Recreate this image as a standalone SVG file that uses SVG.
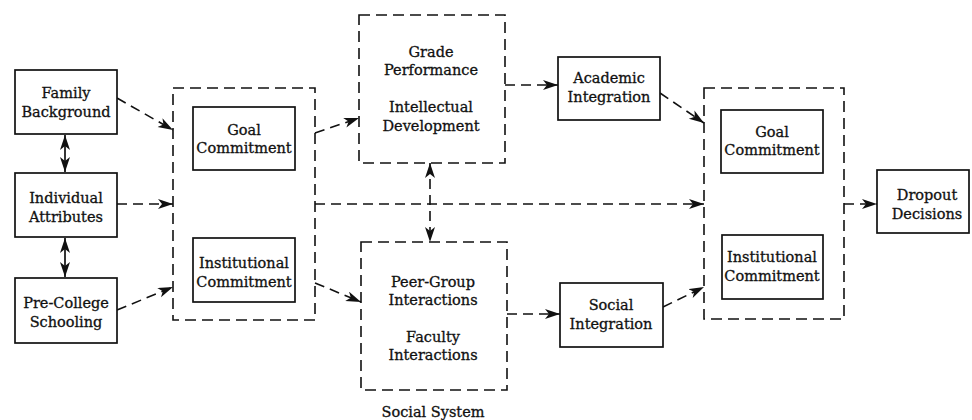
<svg xmlns="http://www.w3.org/2000/svg" width="972" height="420" viewBox="0 0 972 420">
<defs>
<marker id="ah" markerUnits="userSpaceOnUse" markerWidth="16" markerHeight="11" refX="15" refY="5" orient="auto-start-reverse">
<path d="M0,0 L15,5 L0,10 L4,5 Z" fill="#111"/>
</marker>
<style>
.box{fill:#fff;stroke:#111;stroke-width:1.7}
.dbox{fill:none;stroke:#111;stroke-width:1.6;stroke-dasharray:11 6}
.t{font-family:"DejaVu Serif","Liberation Serif",serif;font-size:14.5px;fill:#111;stroke:#111;stroke-width:0.3;text-anchor:middle}
.c{fill:none;stroke:#111;stroke-width:1.6;stroke-dasharray:10 6}
.s{fill:none;stroke:#111;stroke-width:1.7}
</style>
</defs>
<rect width="972" height="420" fill="#fff"/>

<g id="connectors">
<line class="s" x1="65" y1="135" x2="65" y2="172" marker-start="url(#ah)" marker-end="url(#ah)"/>
<line class="s" x1="65" y1="238" x2="65" y2="277" marker-start="url(#ah)" marker-end="url(#ah)"/>
<line class="c" x1="117" y1="98" x2="173" y2="130" marker-end="url(#ah)"/>
<line class="c" x1="117" y1="204" x2="173" y2="204" marker-end="url(#ah)"/>
<line class="c" x1="117" y1="310" x2="173" y2="287" marker-end="url(#ah)"/>
<line class="c" x1="315" y1="133" x2="359" y2="118" marker-end="url(#ah)"/>
<line class="c" x1="315" y1="283" x2="361" y2="302" marker-end="url(#ah)"/>
<line class="c" x1="315" y1="204" x2="704" y2="204" marker-end="url(#ah)"/>
<line class="c" x1="430" y1="163" x2="430" y2="242" marker-start="url(#ah)" marker-end="url(#ah)"/>
<line class="c" x1="505" y1="85" x2="558" y2="85" marker-end="url(#ah)"/>
<line class="c" x1="507" y1="314" x2="560" y2="314" marker-end="url(#ah)"/>
<line class="c" x1="660" y1="93" x2="704" y2="123" marker-end="url(#ah)"/>
<line class="c" x1="663" y1="307" x2="704" y2="287" marker-end="url(#ah)"/>
<line class="c" x1="844" y1="204" x2="877" y2="204" marker-end="url(#ah)"/>
</g>

<g id="family-background">
<rect class="box" x="15" y="70" width="102" height="64"/>
<text class="t" x="66" y="98">Family</text>
<text class="t" x="66" y="117">Background</text>
</g>
<g id="individual-attributes">
<rect class="box" x="15" y="173" width="102" height="64"/>
<text class="t" x="66" y="203">Individual</text>
<text class="t" x="66" y="222">Attributes</text>
</g>
<g id="pre-college-schooling">
<rect class="box" x="15" y="278" width="102" height="65"/>
<text class="t" x="66" y="308">Pre-College</text>
<text class="t" x="66" y="327">Schooling</text>
</g>

<g id="commitments-1">
<rect class="dbox" x="173" y="88" width="142" height="232"/>
</g>
<g id="goal-commitment-1">
<rect class="box" x="193" y="107" width="102" height="63"/>
<text class="t" x="244" y="135">Goal</text>
<text class="t" x="244" y="153">Commitment</text>
</g>
<g id="institutional-commitment-1">
<rect class="box" x="193" y="238" width="102" height="64"/>
<text class="t" x="244" y="268">Institutional</text>
<text class="t" x="244" y="287">Commitment</text>
</g>

<g id="academic-system">
<rect class="dbox" x="359" y="15" width="146" height="148"/>
<text class="t" x="431" y="57">Grade</text>
<text class="t" x="431" y="75">Performance</text>
<text class="t" x="431" y="112">Intellectual</text>
<text class="t" x="431" y="131">Development</text>
</g>
<g id="social-system">
<rect class="dbox" x="361" y="242" width="146" height="148"/>
<text class="t" x="433" y="287">Peer-Group</text>
<text class="t" x="433" y="305">Interactions</text>
<text class="t" x="433" y="342">Faculty</text>
<text class="t" x="433" y="360">Interactions</text>
<text class="t" x="433" y="417">Social System</text>
</g>

<g id="academic-integration">
<rect class="box" x="558" y="57" width="102" height="63"/>
<text class="t" x="609" y="83">Academic</text>
<text class="t" x="609" y="102">Integration</text>
</g>
<g id="social-integration">
<rect class="box" x="560" y="283" width="103" height="64"/>
<text class="t" x="611" y="310">Social</text>
<text class="t" x="611" y="329">Integration</text>
</g>

<g id="commitments-2">
<rect class="dbox" x="704" y="88" width="140" height="231"/>
</g>
<g id="goal-commitment-2">
<rect class="box" x="721" y="110" width="102" height="63"/>
<text class="t" x="772" y="137">Goal</text>
<text class="t" x="772" y="155">Commitment</text>
</g>
<g id="institutional-commitment-2">
<rect class="box" x="722" y="235" width="101" height="64"/>
<text class="t" x="772" y="262">Institutional</text>
<text class="t" x="772" y="281">Commitment</text>
</g>

<g id="dropout-decisions">
<rect class="box" x="877" y="170" width="92" height="63"/>
<text class="t" x="927" y="200">Dropout</text>
<text class="t" x="927" y="219">Decisions</text>
</g>
</svg>
